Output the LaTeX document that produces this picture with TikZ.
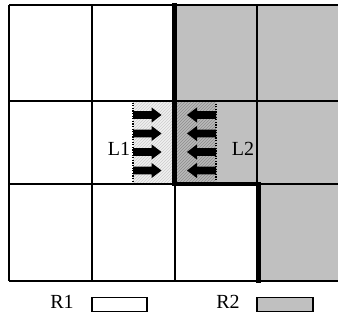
\documentclass[tikz,border=0pt]{standalone}
\usepackage{fontspec}
\setmainfont{Liberation Serif}
\usetikzlibrary{patterns}
\definecolor{regiongray}{HTML}{C0C0C0}
\tikzset{
  gridline/.style={line width=1.6pt, black},
  boundary/.style={line width=4.2pt, black},
  lightband/.style={pattern=north east lines, pattern color=gray!40},
  darkband/.style={pattern=north east lines, pattern color=gray!90},
  dotborder/.style={black, line width=1.3pt, dash pattern=on 1.3pt off 1.3pt},
  flow/.style={fill=black, draw=none},
  txt/.style={font=\fontsize{20pt}{22pt}\selectfont, inner sep=0pt},
  keybox/.style={line width=1.3pt, black},
}
\begin{document}
\begin{tikzpicture}[x=1pt, y=-1pt]
  \useasboundingbox (0,0) rectangle (338,320);
  % shaded region R2
  \fill[regiongray] (175,5) rectangle (338,184);
  \fill[regiongray] (257,184) rectangle (338,281);
  % transition bands
  \fill[gray!12] (133,101) rectangle (173,184);
  \path[lightband] (133,101) rectangle (173,184);
  \fill[gray!55] (176,101) rectangle (216,184);
  \path[darkband] (176,101) rectangle (216,184);
  % grid
  \foreach \x in {9,92,175,257} \draw[gridline] (\x,5) -- (\x,281);
  \foreach \y in {5,101,184,281} \draw[gridline] (9,\y) -- (338,\y);
  % dotted outlines of the bands
  \draw[dotborder] (173,101) -- (133,101) -- (133,184) -- (173,184);
  \draw[dotborder] (177,101) -- (216,101) -- (216,184) -- (177,184);
  % region boundary
  \draw[boundary] (174.5,3) -- (174.5,184) -- (258.5,184) -- (258.5,283);
  % arrows
  \foreach \c in {115,133.5,152,170.5} {
    \fill[flow] (133,\c-3.8) -- (151.5,\c-3.8) -- (151.5,\c-7.6) -- (161.5,\c)
      -- (151.5,\c+7.6) -- (151.5,\c+3.8) -- (133,\c+3.8) -- cycle;
    \fill[flow] (216,\c-3.8) -- (197,\c-3.8) -- (197,\c-7.6) -- (187,\c)
      -- (197,\c+7.6) -- (197,\c+3.8) -- (216,\c+3.8) -- cycle;
  }
  % labels
  \node[txt] (l1) at (119,149) {L1};
  \node[txt] (l2) at (243,149) {L2};
  % legend
  \node[txt] (r1) at (62,302) {R1};
  \draw[keybox, fill=white] (92,297.5) rectangle (147,311.5);
  \node[txt] (r2) at (228,302) {R2};
  \draw[keybox, fill=regiongray] (257,297.5) rectangle (313,311.5);
\end{tikzpicture}
\end{document}
